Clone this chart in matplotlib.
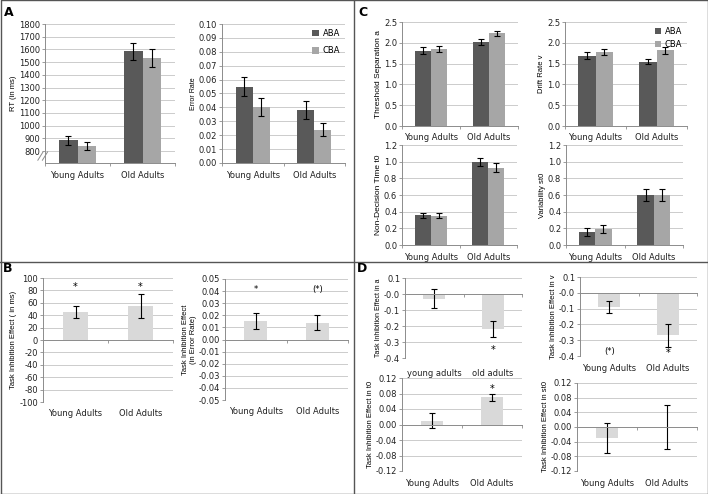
import numpy as np
import matplotlib
matplotlib.use('Agg')
import matplotlib.pyplot as plt
from matplotlib.lines import Line2D

plt.rcParams['font.family'] = ['DejaVu Sans']

groups = ['Young Adults', 'Old Adults']
groups_lower = ['young adults', 'old adults']
conds = ['ABA', 'CBA']

# panel A: raw RT and error rate
rt_aba, rt_aba_err = [885, 1585], [37, 65]
rt_cba, rt_cba_err = [840, 1530], [35, 70]
er_aba, er_aba_err = [0.055, 0.038], [0.007, 0.0065]
er_cba, er_cba_err = [0.040, 0.024], [0.0065, 0.0045]

# panel B: inhibition effects
rt_eff, rt_eff_err = [45, 55], [10, 20]
er_eff, er_eff_err = [0.015, 0.014], [0.0065, 0.006]
rt_eff_sig = ['*', '*']
er_eff_sig = ['*', '(*)']

# panel C: diffusion model parameters
a_aba, a_aba_err = [1.81, 2.01], [0.08, 0.07]
a_cba, a_cba_err = [1.86, 2.23], [0.07, 0.06]
v_aba, v_aba_err = [1.69, 1.55], [0.08, 0.06]
v_cba, v_cba_err = [1.78, 1.82], [0.07, 0.09]
t0_aba, t0_aba_err = [0.36, 1.00], [0.03, 0.05]
t0_cba, t0_cba_err = [0.35, 0.93], [0.03, 0.05]
st0_aba, st0_aba_err = [0.16, 0.60], [0.05, 0.07]
st0_cba, st0_cba_err = [0.19, 0.60], [0.05, 0.07]

# panel D: inhibition effects on parameters
a_eff, a_eff_err = [-0.03, -0.22], [0.06, 0.05]
v_eff, v_eff_err = [-0.09, -0.27], [0.04, 0.07]
t0_eff, t0_eff_err = [0.01, 0.07], [0.02, 0.01]
st0_eff, st0_eff_err = [-0.03, 0.0], [0.04, 0.06]

DARK = '#595959'
LIGHT = '#a6a6a6'
EFF = '#d9d9d9'
AXC = '#8c8c8c'
GRID = '#c4c4c4'

W, H = 708, 494
fig = plt.figure(figsize=(7.08, 4.94), dpi=100)


def make_ax(l, t, r, b):
    return fig.add_axes([l / W, 1 - b / H, (r - l) / W, (b - t) / H])


def style(ax, ylim, ticks, fmt, ylabel, ylab_size=5.5, zero_axis=False):
    ax.set_xlim(0, 2)
    ax.set_ylim(ylim)
    ax.set_yticks(ticks)
    ax.set_yticklabels([fmt.format(t) for t in ticks], fontsize=6, color='#222222')
    ax.grid(axis='y', color=GRID, lw=0.6)
    ax.set_axisbelow(True)
    for s in ['top', 'right']:
        ax.spines[s].set_visible(False)
    for s in ['left', 'bottom']:
        ax.spines[s].set_color(AXC)
        ax.spines[s].set_linewidth(0.7)
    if zero_axis:
        ax.spines['bottom'].set_position(('data', 0))
    ax.tick_params(axis='y', length=2, width=0.6, color=AXC, pad=1.5)
    ax.set_xticks([0, 1, 2])
    ax.set_xticklabels([])
    ax.tick_params(axis='x', length=2.5, width=0.6, color=AXC)
    ax.set_ylabel(ylabel, fontsize=ylab_size, family='Liberation Sans', labelpad=1.5)


def cat_labels(ax, labels, off):
    for i, lab in enumerate(labels):
        ax.annotate(lab, xy=(i + 0.5, 0), xycoords=('data', 'axes fraction'),
                    xytext=(0, -off), textcoords='offset pixels', color='#222222',
                    ha='center', va='center', fontsize=6, annotation_clip=False)


def pair_bars(ax, aba, aba_err, cba, cba_err, w=0.28):
    x = np.arange(2) + 0.5
    ekw = dict(ecolor='black', elinewidth=0.8, capsize=2.5, capthick=0.8)
    ax.bar(x - w / 2, aba, w, yerr=aba_err, color=DARK, error_kw=ekw, label=conds[0])
    ax.bar(x + w / 2, cba, w, yerr=cba_err, color=LIGHT, error_kw=ekw, label=conds[1])


def eff_bars(ax, vals, errs, w=0.38):
    x = np.arange(2) + 0.5
    ekw = dict(ecolor='black', elinewidth=0.8, capsize=2.5, capthick=0.8)
    ax.bar(x, vals, w, yerr=errs, color=EFF, error_kw=ekw)


def legend(ax, spacing):
    ax.legend(loc='upper right', frameon=False, fontsize=6, handlelength=0.8,
              handleheight=0.8, handletextpad=0.4, labelspacing=spacing,
              borderaxespad=0.2)


# ---- A: RT
ax = make_ax(45, 24, 175, 163)
pair_bars(ax, rt_aba, rt_aba_err, rt_cba, rt_cba_err)
style(ax, (706, 1800), np.arange(800, 1801, 100), '{:.0f}', 'RT (in ms)')
cat_labels(ax, groups, 12)
for dx in (-0.035, 0.0):
    ax.plot([-0.02 + dx, 0.02 + dx], [0.02, 0.08], transform=ax.transAxes,
            color=AXC, lw=0.7, clip_on=False)

# ---- A: error rate
ax = make_ax(222, 24, 345, 163)
pair_bars(ax, er_aba, er_aba_err, er_cba, er_cba_err)
style(ax, (0, 0.10), np.arange(0, 0.101, 0.01), '{:.2f}', 'Error Rate', 5)
cat_labels(ax, groups, 12)
legend(ax, 1.0)

# ---- B: RT effect
ax = make_ax(43, 278, 173, 402)
eff_bars(ax, rt_eff, rt_eff_err)
style(ax, (-100, 100), np.arange(-100, 101, 20), '{:.0f}',
      'Task Inhibition Effect ( in ms)', 5.5, zero_axis=True)
cat_labels(ax, groups, 11)
for i, s in enumerate(rt_eff_sig):
    ax.text(i + 0.5, 85, s, ha='center', va='center', fontsize=7)

# ---- B: error effect
ax = make_ax(225, 279, 348, 400)
eff_bars(ax, er_eff, er_eff_err)
style(ax, (-0.05, 0.05), np.arange(-0.05, 0.051, 0.01), '{:.2f}',
      'Task Inhibition Effect\n(in Error Rate)', 5.5, zero_axis=True)
cat_labels(ax, groups, 11)
for i, s in enumerate(er_eff_sig):
    ax.text(i + 0.5, 0.041, s, ha='center', va='center', fontsize=6)

# ---- C: a
ax = make_ax(402, 22, 518, 126)
pair_bars(ax, a_aba, a_aba_err, a_cba, a_cba_err)
style(ax, (0, 2.5), np.arange(0, 2.51, 0.5), '{:.1f}', 'Threshold Separation a', 6)
cat_labels(ax, groups, 11)

# ---- C: v
ax = make_ax(565, 22, 687, 126)
pair_bars(ax, v_aba, v_aba_err, v_cba, v_cba_err)
style(ax, (0, 2.5), np.arange(0, 2.51, 0.5), '{:.1f}', 'Drift Rate v', 5.5)
cat_labels(ax, groups, 11)
legend(ax, 0.45)

# ---- C: t0
ax = make_ax(402, 145, 517, 245)
pair_bars(ax, t0_aba, t0_aba_err, t0_cba, t0_cba_err)
style(ax, (0, 1.2), np.arange(0, 1.21, 0.2), '{:.1f}', 'Non-Decision Time t0', 6)
cat_labels(ax, groups, 12)

# ---- C: st0
ax = make_ax(566, 145, 683, 245)
pair_bars(ax, st0_aba, st0_aba_err, st0_cba, st0_cba_err)
style(ax, (0, 1.2), np.arange(0, 1.21, 0.2), '{:.1f}', 'Variability st0', 5.5)
cat_labels(ax, groups, 12)

# ---- D: a
ax = make_ax(405, 278, 522, 358)
eff_bars(ax, a_eff, a_eff_err)
style(ax, (-0.4, 0.1), np.arange(-0.4, 0.11, 0.1), '{:.1f}',
      'Task Inhibition Effect in a', 5, zero_axis=True)
cat_labels(ax, groups_lower, 15)
ax.text(1.5, -0.35, '*', ha='center', va='center', fontsize=7)

# ---- D: v
ax = make_ax(580, 277, 697, 356)
eff_bars(ax, v_eff, v_eff_err)
style(ax, (-0.4, 0.1), np.arange(-0.4, 0.11, 0.1), '{:.1f}',
      'Task Inhibition Effect in v', 5.5, zero_axis=True)
cat_labels(ax, groups, 12)
ax.text(0.5, -0.37, '(*)', ha='center', va='center', fontsize=6)
ax.text(1.5, -0.38, '*', ha='center', va='center', fontsize=7)

# ---- D: t0
ax = make_ax(402, 378, 522, 471)
eff_bars(ax, t0_eff, t0_eff_err)
style(ax, (-0.12, 0.12), np.arange(-0.12, 0.121, 0.04), '{:.2f}',
      'Task Inhibition Effect in t0', 5.5, zero_axis=True)
cat_labels(ax, groups, 12)
ax.text(1.5, 0.092, '*', ha='center', va='center', fontsize=7)

# ---- D: st0
ax = make_ax(577, 383, 697, 471)
eff_bars(ax, st0_eff, st0_eff_err)
style(ax, (-0.12, 0.12), np.arange(-0.12, 0.121, 0.04), '{:.2f}',
      'Task Inhibition Effect in st0', 5.5, zero_axis=True)
cat_labels(ax, groups, 12)

# panel letters and frames
for lab, x, y in [('A', 9, 12), ('B', 8, 268), ('C', 363, 12), ('D', 362, 268)]:
    fig.text(x / W, 1 - y / H, lab, fontsize=9, fontweight='bold', ha='center', va='center')

frame = dict(color='#555555', lw=1.0, transform=fig.transFigure)
fig.add_artist(Line2D([0.5 / W, 707.5 / W, 707.5 / W, 0.5 / W, 0.5 / W],
                      [0.5 / H, 0.5 / H, 493.5 / H, 493.5 / H, 0.5 / H], **frame))
fig.add_artist(Line2D([354 / W, 354 / W], [0, 1], **frame))
fig.add_artist(Line2D([0, 1], [1 - 262 / H, 1 - 262 / H], **frame))

fig.savefig('out.png', dpi=100)
